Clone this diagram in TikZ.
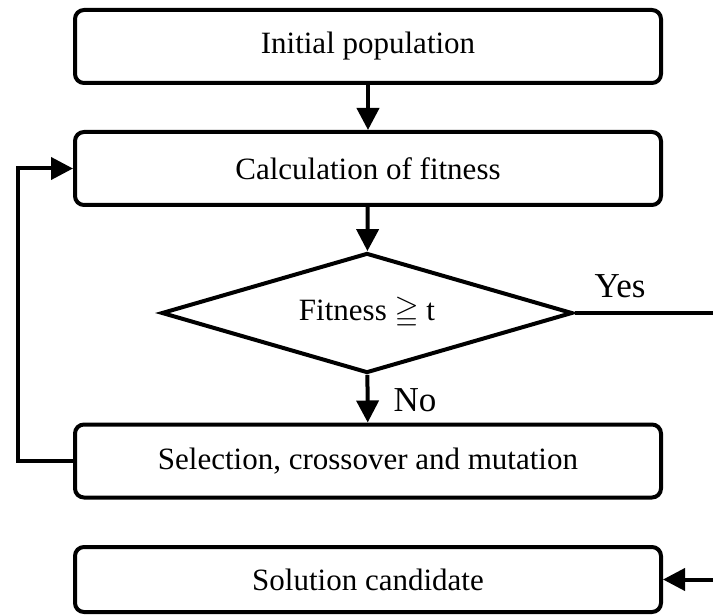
\documentclass[tikz,border=0pt]{standalone}
\usepackage{fontspec}
\setmainfont{Liberation Serif}
\usepackage{amssymb}
\usetikzlibrary{arrows.meta,shapes.geometric}
\begin{document}
\begin{tikzpicture}[x=1pt,y=-1pt,
  box/.style={draw,line width=4pt,rounded corners=9pt,minimum width=586pt,minimum height=73pt,inner sep=0pt,font=\fontsize{31}{36}\selectfont},
  dec/.style={draw,diamond,aspect=3.4,line width=4pt,minimum width=411pt,minimum height=120pt,inner sep=0pt,font=\fontsize{31}{36}\selectfont},
  conn/.style={line width=4pt},
  arr/.style={conn,-{Triangle[length=22pt,width=22pt]}},
  lbl/.style={font=\fontsize{35}{40}\selectfont,inner sep=0pt}]
\useasboundingbox (0,0) rectangle (713,615);
\node[box] (init) at (368,46.5) {Initial population};
\node[box] (fit) at (368,168.5) {Calculation of fitness};
\node[dec] (test) at (367,313) {Fitness $\geqq$ t};
\node[box] (sel) at (368,461) {Selection, crossover and mutation};
\node[box,minimum height=65pt] (sol) at (368,579.5) {Solution candidate};
\node[lbl] (yes) at (620,286) {Yes};
\node[lbl] (no) at (415,400) {No};
\coordinate (yesend) at (713,313);
\coordinate (solin) at (713,579.5);
\coordinate (loopL) at (18,300);
\draw[arr] (init) -- (fit);
\draw[arr] (fit) -- (test);
\draw[arr] (test) -- (sel);
\draw[conn] (test.east) -- (yesend);
\draw[arr] (solin) -- (sol.east);
\draw[arr] (sel.west) -| (loopL) |- (fit.west);
\end{tikzpicture}
\end{document}
